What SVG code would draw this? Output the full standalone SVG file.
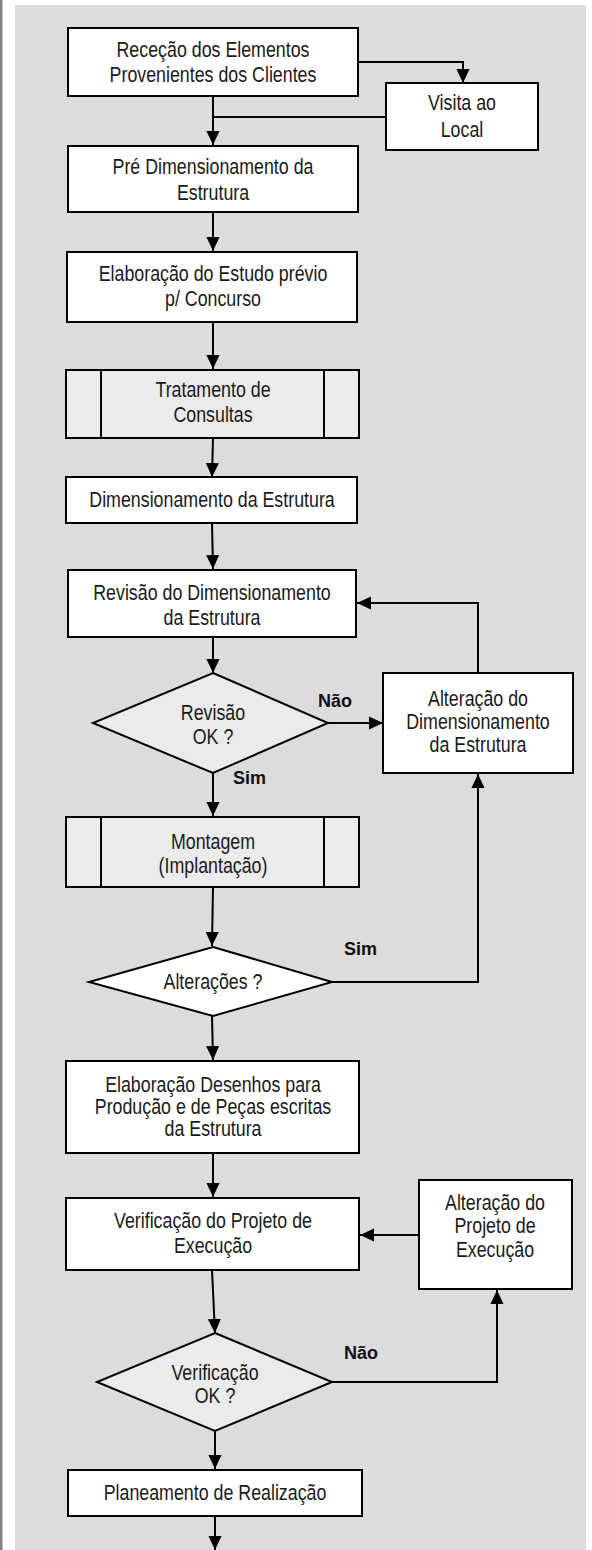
<svg xmlns="http://www.w3.org/2000/svg" width="592" height="1550" viewBox="0 0 592 1550">
<style>
.t{font-family:"Liberation Sans",Arial,sans-serif;font-size:22px;fill:#1a1a1a;text-anchor:middle}
.lb{font-family:"Liberation Sans",Arial,sans-serif;font-weight:bold;font-size:18px;fill:#111}
.box{fill:#fff;stroke:#000;stroke-width:2}
.sub{fill:#ebebeb;stroke:#000;stroke-width:2}
.ln{fill:none;stroke:#000;stroke-width:2}
</style>
<defs>
<marker id="ah" markerUnits="userSpaceOnUse" markerWidth="14" markerHeight="15" viewBox="0 0 15 14" refX="15" refY="7" orient="auto">
<path d="M0,0 L15,7 L0,14 z" fill="#000"/>
</marker>
</defs>
<rect x="0" y="0" width="592" height="1550" fill="#fff"/>
<rect x="0" y="0" width="2.5" height="1550" fill="#808080"/>
<rect x="15" y="5" width="571" height="1545" fill="#dcdcdc"/>

<g id="connectors">
<polyline class="ln" points="358,62 463,62 463,83" marker-end="url(#ah)"/>
<line class="ln" x1="213" y1="96" x2="213" y2="145" marker-end="url(#ah)"/>
<line class="ln" x1="386" y1="117" x2="213" y2="117"/>
<line class="ln" x1="213" y1="212" x2="213" y2="251" marker-end="url(#ah)"/>
<line class="ln" x1="213" y1="322" x2="213" y2="369" marker-end="url(#ah)"/>
<line class="ln" x1="213" y1="438" x2="212" y2="477" marker-end="url(#ah)"/>
<line class="ln" x1="212" y1="523" x2="213" y2="569" marker-end="url(#ah)"/>
<line class="ln" x1="213" y1="637" x2="213" y2="673" marker-end="url(#ah)"/>
<polyline class="ln" points="478,673 478,603 357,603" marker-end="url(#ah)"/>
<line class="ln" x1="328" y1="723" x2="383" y2="723" marker-end="url(#ah)"/>
<line class="ln" x1="213" y1="773" x2="213" y2="816" marker-end="url(#ah)"/>
<line class="ln" x1="213" y1="887" x2="212" y2="946" marker-end="url(#ah)"/>
<polyline class="ln" points="332,982 478,982 478,774" marker-end="url(#ah)"/>
<line class="ln" x1="212" y1="1016" x2="213" y2="1060" marker-end="url(#ah)"/>
<line class="ln" x1="213" y1="1153" x2="213" y2="1197" marker-end="url(#ah)"/>
<line class="ln" x1="419" y1="1235" x2="360" y2="1235" marker-end="url(#ah)"/>
<line class="ln" x1="212" y1="1270" x2="215" y2="1333" marker-end="url(#ah)"/>
<polyline class="ln" points="332,1382 497,1382 497,1290" marker-end="url(#ah)"/>
<line class="ln" x1="215" y1="1431" x2="215" y2="1469" marker-end="url(#ah)"/>
<line class="ln" x1="215" y1="1516" x2="215" y2="1550" marker-end="url(#ah)"/>
</g>

<g id="rececao">
<rect class="box" x="68" y="28" width="290" height="68"/>
<text class="t" transform="translate(213,57) scale(0.81,1)">Receção dos Elementos</text>
<text class="t" transform="translate(213,82) scale(0.81,1)">Provenientes dos Clientes</text>
</g>
<g id="visita">
<rect class="box" x="386" y="83" width="152" height="67"/>
<text class="t" transform="translate(462,110) scale(0.81,1)">Visita ao</text>
<text class="t" transform="translate(462,137) scale(0.81,1)">Local</text>
</g>
<g id="pre">
<rect class="box" x="68" y="146" width="290" height="66"/>
<text class="t" transform="translate(213,174) scale(0.81,1)">Pré Dimensionamento da</text>
<text class="t" transform="translate(213,200) scale(0.81,1)">Estrutura</text>
</g>
<g id="estudo">
<rect class="box" x="67" y="252" width="290" height="70"/>
<text class="t" transform="translate(213,281) scale(0.81,1)">Elaboração do Estudo prévio</text>
<text class="t" transform="translate(213,306) scale(0.81,1)">p/ Concurso</text>
</g>
<g id="consultas">
<rect class="sub" x="66" y="370" width="293" height="68"/>
<line class="ln" x1="101" y1="370" x2="101" y2="438"/>
<line class="ln" x1="324" y1="370" x2="324" y2="438"/>
<text class="t" transform="translate(213,397) scale(0.81,1)">Tratamento de</text>
<text class="t" transform="translate(213,422) scale(0.81,1)">Consultas</text>
</g>
<g id="dimensionamento">
<rect class="box" x="66" y="477" width="291" height="46"/>
<text class="t" transform="translate(212,507) scale(0.81,1)">Dimensionamento da Estrutura</text>
</g>
<g id="revisao">
<rect class="box" x="68" y="570" width="288" height="67"/>
<text class="t" transform="translate(212,600) scale(0.81,1)">Revisão do Dimensionamento</text>
<text class="t" transform="translate(212,625) scale(0.81,1)">da Estrutura</text>
</g>
<g id="revisao-ok">
<polygon class="sub" points="213,673 328,723 213,773 93,723"/>
<text class="t" transform="translate(213,720) scale(0.81,1)">Revisão</text>
<text class="t" transform="translate(213,744) scale(0.81,1)">OK ?</text>
</g>
<g id="alteracao-dim">
<rect class="box" x="383" y="673" width="190" height="100"/>
<text class="t" transform="translate(478,706) scale(0.81,1)">Alteração do</text>
<text class="t" transform="translate(478,729) scale(0.81,1)">Dimensionamento</text>
<text class="t" transform="translate(478,752) scale(0.81,1)">da Estrutura</text>
</g>
<g id="montagem">
<rect class="sub" x="66" y="817" width="293" height="70"/>
<line class="ln" x1="101" y1="817" x2="101" y2="887"/>
<line class="ln" x1="324" y1="817" x2="324" y2="887"/>
<text class="t" transform="translate(213,849) scale(0.81,1)">Montagem</text>
<text class="t" transform="translate(213,873) scale(0.81,1)">(Implantação)</text>
</g>
<g id="alteracoes">
<polygon class="box" points="213,947 332,982 213,1016 89,982"/>
<text class="t" transform="translate(213,989) scale(0.81,1)">Alterações ?</text>
</g>
<g id="desenhos">
<rect class="box" x="66" y="1061" width="293" height="92"/>
<text class="t" transform="translate(213,1092) scale(0.81,1)">Elaboração Desenhos para</text>
<text class="t" transform="translate(213,1114) scale(0.81,1)">Produção e de Peças escritas</text>
<text class="t" transform="translate(213,1136) scale(0.81,1)">da Estrutura</text>
</g>
<g id="verificacao">
<rect class="box" x="66" y="1198" width="293" height="72"/>
<text class="t" transform="translate(213,1228) scale(0.81,1)">Verificação do Projeto de</text>
<text class="t" transform="translate(213,1253) scale(0.81,1)">Execução</text>
</g>
<g id="alteracao-proj">
<rect class="box" x="419" y="1180" width="153" height="109"/>
<text class="t" transform="translate(495,1210) scale(0.81,1)">Alteração do</text>
<text class="t" transform="translate(495,1233) scale(0.81,1)">Projeto de</text>
<text class="t" transform="translate(495,1257) scale(0.81,1)">Execução</text>
</g>
<g id="verificacao-ok">
<polygon class="sub" points="215,1333 332,1382 215,1431 97,1382"/>
<text class="t" transform="translate(215,1380) scale(0.81,1)">Verificação</text>
<text class="t" transform="translate(215,1403) scale(0.81,1)">OK ?</text>
</g>
<g id="planeamento">
<rect class="box" x="68" y="1470" width="294" height="46"/>
<text class="t" transform="translate(215,1500) scale(0.81,1)">Planeamento de Realização</text>
</g>
<g id="labels">
<text class="lb" x="318" y="707">Não</text>
<text class="lb" x="233" y="784">Sim</text>
<text class="lb" x="344" y="955">Sim</text>
<text class="lb" x="344" y="1359">Não</text>
</g>
</svg>
